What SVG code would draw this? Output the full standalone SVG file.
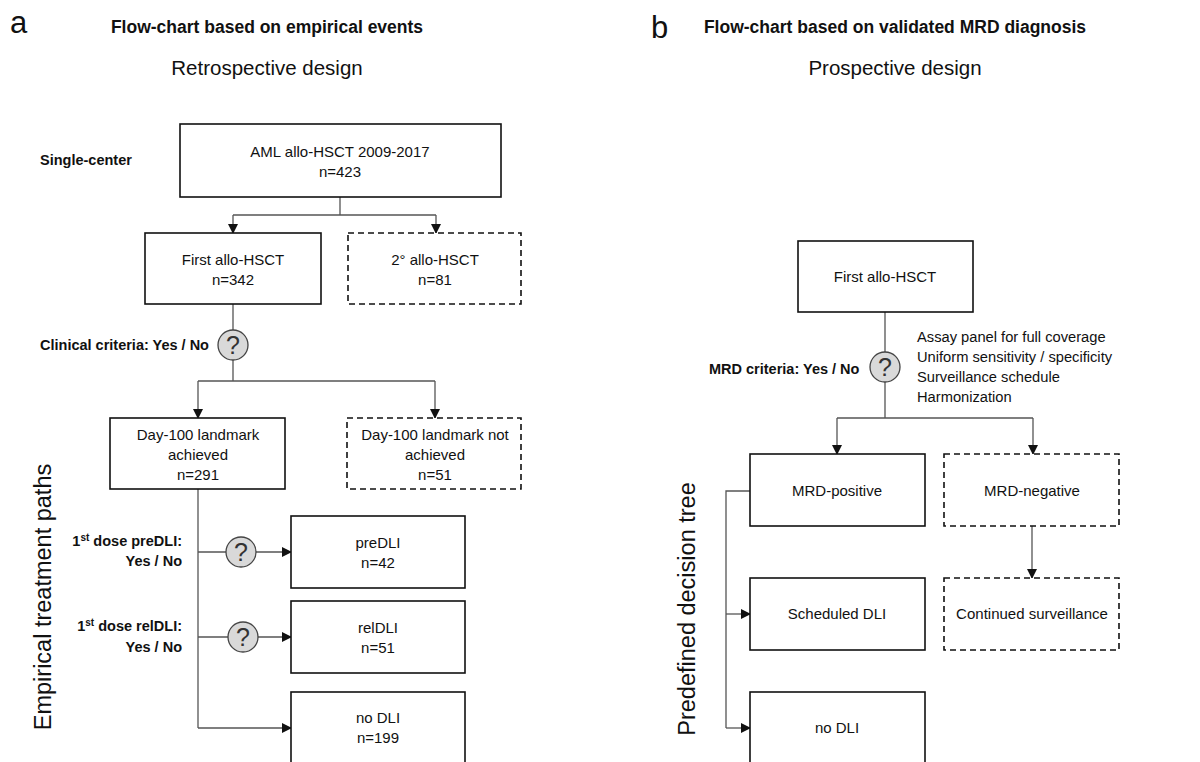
<svg xmlns="http://www.w3.org/2000/svg" width="1200" height="762" viewBox="0 0 1200 762">
<style>
text{font-family:"Liberation Sans",Arial,sans-serif;fill:#111}
.box{fill:#fff;stroke:#111;stroke-width:1.6}
.dash{fill:#fff;stroke:#111;stroke-width:1.6;stroke-dasharray:6,4}
.t{font-size:15px;text-anchor:middle}
.b{font-size:14.5px;font-weight:bold}
.h{font-size:17.5px;font-weight:bold}
.sub{font-size:20.5px;text-anchor:middle}
.lbl{font-size:31px}
.rot{font-size:23.5px;text-anchor:middle}
.c{fill:none;stroke:#555;stroke-width:1.3}
.q{fill:#d9d9d9;stroke:#444;stroke-width:1.3}
.qt{font-size:25px;text-anchor:middle;fill:#333}
.r{font-size:14.7px}
</style>
<defs>
<marker id="ar" markerWidth="10" markerHeight="10" refX="9" refY="5" orient="auto" markerUnits="userSpaceOnUse">
<path d="M0,0 L10,5 L0,10 Z" fill="#111"/>
</marker>
</defs>
<rect width="1200" height="762" fill="#fff"/>

<g id="headers">
<text class="lbl" x="10" y="33">a</text>
<text class="h" x="267" y="33" text-anchor="middle">Flow-chart based on empirical events</text>
<text class="sub" x="267" y="75">Retrospective design</text>
<text class="lbl" x="651" y="38">b</text>
<text class="h" x="895" y="33" text-anchor="middle">Flow-chart based on validated MRD diagnosis</text>
<text class="sub" x="895" y="75">Prospective design</text>
<text class="b" x="40" y="165">Single-center</text>
<text class="b" x="40" y="350">Clinical criteria: Yes / No</text>
<text class="b" x="182" y="546" text-anchor="end">1<tspan font-size="10" dy="-5">st</tspan><tspan dy="5"> dose preDLI:</tspan></text>
<text class="b" x="182" y="566" text-anchor="end">Yes / No</text>
<text class="b" x="182" y="631" text-anchor="end">1<tspan font-size="10" dy="-5">st</tspan><tspan dy="5"> dose relDLI:</tspan></text>
<text class="b" x="182" y="652" text-anchor="end">Yes / No</text>
<text class="rot" transform="translate(51,597) rotate(-90)">Empirical treatment paths</text>
<text class="b" x="709" y="374">MRD criteria: Yes / No</text>
<text class="r" x="917" y="342">Assay panel for full coverage</text>
<text class="r" x="917" y="362">Uniform sensitivity / specificity</text>
<text class="r" x="917" y="382">Surveillance schedule</text>
<text class="r" x="917" y="402">Harmonization</text>
<text class="rot" transform="translate(695,609) rotate(-90)">Predefined decision tree</text>
</g>

<g id="connectors">
<path class="c" d="M340,197 V215 M233,215 H436"/>
<path class="c" d="M233,215 V233" marker-end="url(#ar)"/>
<path class="c" d="M436,215 V233" marker-end="url(#ar)"/>
<path class="c" d="M233,304 V330 M233,360 V381 M198,381 H435"/>
<path class="c" d="M198,381 V418" marker-end="url(#ar)"/>
<path class="c" d="M435,381 V418" marker-end="url(#ar)"/>
<path class="c" d="M198,489 V728"/>
<path class="c" d="M198,552 H226 M256,552 H291" marker-end="url(#ar)"/>
<path class="c" d="M198,637 H228 M258,637 H291" marker-end="url(#ar)"/>
<path class="c" d="M198,728 H291" marker-end="url(#ar)"/>
<path class="c" d="M885,312 V352 M885,382 V418 M837,418 H1033"/>
<path class="c" d="M837,418 V454" marker-end="url(#ar)"/>
<path class="c" d="M1033,418 V454" marker-end="url(#ar)"/>
<path class="c" d="M1032,526 V578" marker-end="url(#ar)"/>
<path class="c" d="M752,491 H726 V728"/>
<path class="c" d="M726,614 H750" marker-end="url(#ar)"/>
<path class="c" d="M726,728 H750" marker-end="url(#ar)"/>
</g>

<g id="q1"><circle class="q" cx="233" cy="345" r="15"/><text class="qt" x="233" y="354">?</text></g>
<g id="q2"><circle class="q" cx="241" cy="552" r="15"/><text class="qt" x="241" y="561">?</text></g>
<g id="q3"><circle class="q" cx="243" cy="637" r="15"/><text class="qt" x="243" y="646">?</text></g>
<g id="q4"><circle class="q" cx="885" cy="367" r="15"/><text class="qt" x="885" y="376">?</text></g>

<g id="aml"><rect class="box" x="180" y="124" width="321" height="73"/>
<text class="t" x="340" y="157">AML allo-HSCT 2009-2017</text><text class="t" x="340" y="177">n=423</text></g>
<g id="first-a"><rect class="box" x="145" y="233" width="176" height="71"/>
<text class="t" x="233" y="265">First allo-HSCT</text><text class="t" x="233" y="285">n=342</text></g>
<g id="second-a"><rect class="dash" x="348" y="233" width="173" height="71"/>
<text class="t" x="435" y="265">2° allo-HSCT</text><text class="t" x="435" y="285">n=81</text></g>
<g id="d100"><rect class="box" x="110" y="418" width="175" height="71"/>
<text class="t" x="198" y="440">Day-100 landmark</text><text class="t" x="198" y="460">achieved</text><text class="t" x="198" y="480">n=291</text></g>
<g id="d100not"><rect class="dash" x="347" y="418" width="174" height="71"/>
<text class="t" x="435" y="440">Day-100 landmark not</text><text class="t" x="435" y="460">achieved</text><text class="t" x="435" y="480">n=51</text></g>
<g id="predli"><rect class="box" x="291" y="516" width="174" height="72"/>
<text class="t" x="378" y="548">preDLI</text><text class="t" x="378" y="568">n=42</text></g>
<g id="reldli"><rect class="box" x="291" y="601" width="174" height="72"/>
<text class="t" x="378" y="633">relDLI</text><text class="t" x="378" y="653">n=51</text></g>
<g id="nodli-a"><rect class="box" x="291" y="692" width="174" height="80"/>
<text class="t" x="378" y="723">no DLI</text><text class="t" x="378" y="743">n=199</text></g>

<g id="first-b"><rect class="box" x="798" y="241" width="175" height="71"/>
<text class="t" x="885" y="282">First allo-HSCT</text></g>
<g id="mrdpos"><rect class="box" x="750" y="454" width="175" height="72"/>
<text class="t" x="837" y="496">MRD-positive</text></g>
<g id="mrdneg"><rect class="dash" x="944" y="454" width="175" height="72"/>
<text class="t" x="1032" y="496">MRD-negative</text></g>
<g id="sched"><rect class="box" x="750" y="578" width="175" height="72"/>
<text class="t" x="837" y="619">Scheduled DLI</text></g>
<g id="cont"><rect class="dash" x="944" y="578" width="175" height="72"/>
<text class="t" x="1032" y="619">Continued surveillance</text></g>
<g id="nodli-b"><rect class="box" x="750" y="692" width="175" height="80"/>
<text class="t" x="837" y="733">no DLI</text></g>
</svg>
